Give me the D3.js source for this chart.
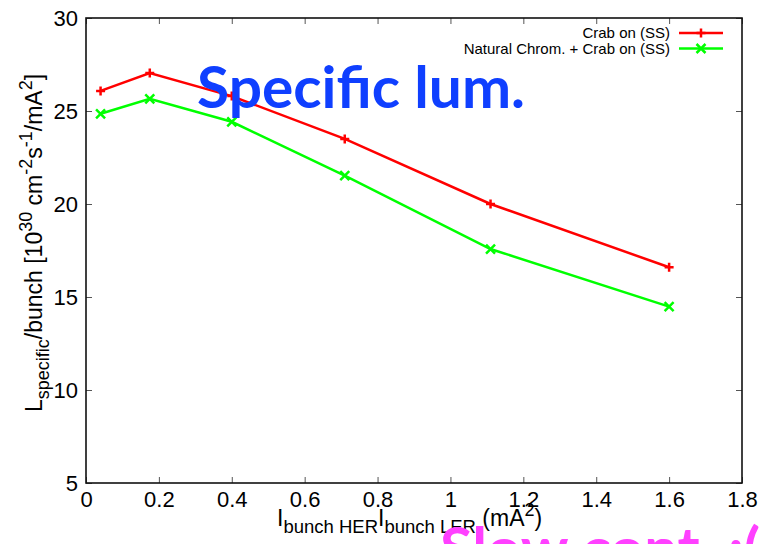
<!DOCTYPE html>
<html>
<head>
<meta charset="utf-8">
<script src="https://cdn.jsdelivr.net/npm/d3@7"></script>
<style>
  body { margin: 0; background: #fff; }
  svg { display: block; }
  text { font-family: "Liberation Sans", Arial, sans-serif; }
</style>
</head>
<body>
<div id="chart"></div>
<script>
var width = 764;
var height = 544;

// data
var currents = [0.04, 0.175, 0.4, 0.71, 1.11, 1.6];
var crabOn = [26.08, 27.04, 25.8, 23.5, 20.0, 16.6];
var chromCrabOn = [24.85, 25.65, 24.42, 21.52, 17.58, 14.48];
var seriesNames = ["Crab on (SS)", "Natural Chrom. + Crab on (SS)"];
var seriesColors = ["#ff0000", "#00ff00"];
var xTicks = [0, 0.2, 0.4, 0.6, 0.8, 1, 1.2, 1.4, 1.6, 1.8];
var yTicks = [5, 10, 15, 20, 25, 30];

var margin = {top: 18, right: 22, bottom: 61, left: 86};

var svg = d3.select("#chart")
  .append("svg")
  .attr("width", width)
  .attr("height", height);

var x = d3.scaleLinear()
    .domain([0, 1.8])
    .range([margin.left, width - margin.right]);

var y = d3.scaleLinear()
    .domain([5, 30])
    .range([height - margin.bottom, margin.top]);

var fmt = function(d) { return d3.format("")(+d.toFixed(1)); };

// axes, gnuplot style: ticks point inward on all sides
var gx = svg.append("g")
  .attr("transform", "translate(0," + y(5) + ")")
  .call(d3.axisBottom(x).tickValues(xTicks).tickFormat(fmt).tickSize(-6).tickPadding(8));
var gy = svg.append("g")
  .attr("transform", "translate(" + x(0) + ",0)")
  .call(d3.axisLeft(y).tickValues(yTicks).tickSize(-6).tickPadding(8));
var gt = svg.append("g")
  .attr("transform", "translate(0," + y(30) + ")")
  .call(d3.axisTop(x).tickValues(xTicks).tickFormat("").tickSize(-6));
var gr = svg.append("g")
  .attr("transform", "translate(" + x(1.8) + ",0)")
  .call(d3.axisRight(y).tickValues(yTicks).tickFormat("").tickSize(-6));

[gx, gy, gt, gr].forEach(function(g) {
  g.select(".domain").remove();
  g.selectAll(".tick line").attr("stroke", "#555").attr("stroke-width", 1);
  g.selectAll(".tick text")
    .attr("fill", "#000")
    .style("font-family", "'Liberation Sans', Arial, sans-serif")
    .style("font-size", "22px");
});
gx.selectAll(".tick text").attr("dy", "0.72em");
gy.selectAll(".tick text").attr("dy", "0.36em");

// frame
svg.append("rect")
  .attr("x", x(0))
  .attr("y", y(30))
  .attr("width", x(1.8) - x(0))
  .attr("height", y(5) - y(30))
  .attr("fill", "none")
  .attr("stroke", "#111")
  .attr("stroke-width", 1.6);

// series
var series = [crabOn, chromCrabOn];
var line = d3.line()
  .x(function(d, i) { return x(currents[i]); })
  .y(function(d) { return y(d); });

function marker(sel, k, cx, cy) {
  var s = 4.5;
  var p = k === 0
    ? "M" + (cx - s) + "," + cy + "H" + (cx + s) + "M" + cx + "," + (cy - s) + "V" + (cy + s)
    : "M" + (cx - s) + "," + (cy - s) + "L" + (cx + s) + "," + (cy + s) +
      "M" + (cx - s) + "," + (cy + s) + "L" + (cx + s) + "," + (cy - s);
  sel.append("path")
    .attr("d", p)
    .attr("stroke", seriesColors[k])
    .attr("stroke-width", 2.5)
    .attr("fill", "none");
}

series.forEach(function(vals, k) {
  var g = svg.append("g");
  g.append("path")
    .datum(vals)
    .attr("d", line)
    .attr("fill", "none")
    .attr("stroke", seriesColors[k])
    .attr("stroke-width", 2.5);
  vals.forEach(function(v, i) {
    marker(g, k, x(currents[i]), y(v));
  });
});

// legend
seriesNames.forEach(function(name, k) {
  var ly = 33 + k * 15.5;
  svg.append("text")
    .attr("x", 670)
    .attr("y", ly)
    .attr("dy", "0.35em")
    .attr("text-anchor", "end")
    .style("font-size", "15px")
    .text(name);
  svg.append("line")
    .attr("x1", 679).attr("x2", 723)
    .attr("y1", ly).attr("y2", ly)
    .attr("stroke", seriesColors[k])
    .attr("stroke-width", 2.5);
  marker(svg, k, 701, ly);
});

// y axis label
var yl = svg.append("text")
  .attr("transform", "translate(42,243) rotate(-90)")
  .attr("text-anchor", "middle")
  .style("font-size", "23px");
yl.append("tspan").text("L");
yl.append("tspan").attr("dy", 7).style("font-size", "18px").text("specific");
yl.append("tspan").attr("dy", -7).text("/bunch [10");
yl.append("tspan").attr("dy", -10).style("font-size", "18px").text("30");
yl.append("tspan").attr("dy", 10).text(" cm");
yl.append("tspan").attr("dy", -10).style("font-size", "18px").text("-2");
yl.append("tspan").attr("dy", 10).text("s");
yl.append("tspan").attr("dy", -10).style("font-size", "18px").text("-1");
yl.append("tspan").attr("dy", 10).text("/mA");
yl.append("tspan").attr("dy", -10).style("font-size", "18px").text("2");
yl.append("tspan").attr("dy", 10).text("]");

// x axis label
var xl = svg.append("text")
  .attr("x", 277)
  .attr("y", 526)
  .style("font-size", "23px");
xl.append("tspan").text("I");
xl.append("tspan").attr("dy", 7).style("font-size", "18.5px").text("bunch HER");
xl.append("tspan").attr("dy", -7).text("I");
xl.append("tspan").attr("dy", 7).style("font-size", "18.5px").text("bunch LER");
xl.append("tspan").attr("dy", -7).text(" (mA");
xl.append("tspan").attr("dy", -10).style("font-size", "18px").text("2");
xl.append("tspan").attr("dy", 10).text(")");

// slide overlay texts
svg.append("text")
  .attr("x", 197)
  .attr("y", 108)
  .attr("textLength", 328)
  .attr("lengthAdjust", "spacingAndGlyphs")
  .style("font-family", "Lato, 'Open Sans', sans-serif")
  .style("font-weight", "bold")
  .style("font-size", "58px")
  .attr("fill", "#0f3fff")
  .text("Specific lum.");

svg.append("text")
  .attr("x", 440)
  .attr("y", 569)
  .attr("textLength", 320)
  .attr("lengthAdjust", "spacingAndGlyphs")
  .style("font-family", "Lato, 'Open Sans', sans-serif")
  .style("font-weight", "bold")
  .style("font-size", "58px")
  .attr("fill", "#ff40ff")
  .text("Slow cont. :(");
</script>
</body>
</html>
